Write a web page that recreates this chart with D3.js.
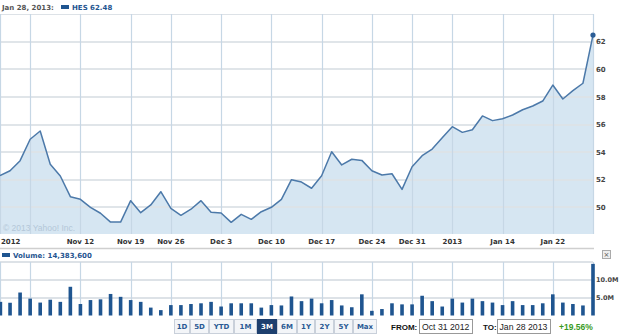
<!DOCTYPE html>
<html>
<head>
<meta charset="utf-8">
<script src="https://cdn.jsdelivr.net/npm/d3@7"></script>
<style>
  body { margin: 0; background: #fff; }
  svg { display: block; }
</style>
</head>
<body>
<svg id="chart" width="625" height="334"></svg>
<script>
// trading days shown on the 3M view
const dates = [
  '2012-10-31',
  '2012-11-01', '2012-11-02', '2012-11-05', '2012-11-06', '2012-11-07', '2012-11-08', '2012-11-09',
  '2012-11-12', '2012-11-13', '2012-11-14', '2012-11-15', '2012-11-16', '2012-11-19', '2012-11-20',
  '2012-11-21', '2012-11-23', '2012-11-26', '2012-11-27', '2012-11-28', '2012-11-29', '2012-11-30',
  '2012-12-03', '2012-12-04', '2012-12-05', '2012-12-06', '2012-12-07', '2012-12-10', '2012-12-11',
  '2012-12-12', '2012-12-13', '2012-12-14', '2012-12-17', '2012-12-18', '2012-12-19', '2012-12-20',
  '2012-12-21', '2012-12-24', '2012-12-26', '2012-12-27', '2012-12-28', '2012-12-31',
  '2013-01-02', '2013-01-03', '2013-01-04', '2013-01-07', '2013-01-08', '2013-01-09', '2013-01-10',
  '2013-01-11', '2013-01-14', '2013-01-15', '2013-01-16', '2013-01-17', '2013-01-18', '2013-01-22',
  '2013-01-23', '2013-01-24', '2013-01-25', '2013-01-28',
];

const closes = [
  52.29, 52.65, 53.38, 54.93, 55.53, 53.12, 52.27, 50.77, 50.58, 50.00,
  49.57, 48.93, 48.93, 50.48, 49.61, 50.17, 51.13, 49.93, 49.42, 49.86,
  50.48, 49.64, 49.59, 48.91, 49.49, 49.13, 49.68, 50.00, 50.58, 52.00,
  51.83, 51.38, 52.29, 54.03, 53.07, 53.48, 53.40, 52.65, 52.34, 52.43,
  51.30, 52.94, 53.74, 54.22, 55.04, 55.84, 55.43, 55.62, 56.62, 56.28,
  56.42, 56.69, 57.07, 57.34, 57.70, 58.86, 57.85, 58.45, 58.99, 62.48,
];

// volume in millions of shares
const volumes = [
  3.8, 3.55, 6.4, 4.7, 3.6, 4.4, 3.8, 8.0, 3.2, 4.3,
  4.5, 6.0, 5.2, 4.3, 3.8, 2.2, 1.5, 2.9, 2.9, 3.2,
  3.4, 3.8, 2.5, 3.4, 3.4, 3.4, 2.2, 2.9, 2.8, 5.3,
  4.0, 4.7, 3.4, 4.3, 2.8, 2.3, 5.9, 1.3, 1.8, 3.4,
  3.1, 3.1, 5.5, 4.0, 2.5, 4.7, 3.6, 4.7, 4.0, 3.6,
  2.9, 4.0, 2.9, 2.9, 3.4, 5.9, 3.6, 3.2, 2.8, 14.3836,
];

const xTickDates = ['2012-10-31', '2012-11-05', '2012-11-12', '2012-11-19', '2012-11-26', '2012-12-03',
  '2012-12-10', '2012-12-17', '2012-12-24', '2012-12-31', '2013-01-07', '2013-01-14', '2013-01-22', '2013-01-28'];
const xTickLabels = ['2012', '', 'Nov 12', 'Nov 19', 'Nov 26', 'Dec 3',
  'Dec 10', 'Dec 17', 'Dec 24', 'Dec 31', '2013', 'Jan 14', 'Jan 22', ''];
const priceTicks = [50, 52, 54, 56, 58, 60, 62];
const volumeTicks = [5, 10];
const rangeButtons = ['1D', '5D', 'YTD', '1M', '3M', '6M', '1Y', '2Y', '5Y', 'Max'];
const activeRange = '3M';

const BLUE = '#1f5590';
const LINE = '#4c79a9';
const FILL = '#d6e6f2';
const HGRID = '#dde2e7';
const VGRID = '#c6d7e5';

const svg = d3.select('#chart');
svg.append('rect').attr('width', 625).attr('height', 334).attr('fill', '#fff');

const idx = (d) => dates.indexOf(d);
const x = d3.scaleLinear().domain([0, dates.length - 1]).range([0, 593]);
const y = d3.scaleLinear().domain([50, 62]).range([207.3, 41.7]);
const yv = d3.scaleLinear().domain([0, 10]).range([315.5, 279.6]);

const mainTop = 14;
const mainBottom = 234;
const volTop = 262;

// ---- main price panel ----
const main = svg.append('g');

main.append('path')
  .datum(closes)
  .attr('fill', FILL)
  .attr('d', d3.area()
    .x((d, i) => x(i))
    .y0(mainBottom)
    .y1((d) => y(d)));

// grid
main.selectAll('.hgrid')
  .data(priceTicks)
  .join('line')
    .attr('x1', 0)
    .attr('x2', x(dates.length - 1))
    .attr('y1', (d) => Math.round(y(d)))
    .attr('y2', (d) => Math.round(y(d)))
    .attr('stroke', HGRID)
    .attr('stroke-opacity', 0.9)
    .attr('stroke-width', 2);

main.append('line')
  .attr('x1', 0).attr('x2', x(dates.length - 1))
  .attr('y1', mainTop + 0.5).attr('y2', mainTop + 0.5)
  .attr('stroke', HGRID);

main.selectAll('.vgrid')
  .data(xTickDates)
  .join('line')
    .attr('x1', (d) => Math.round(x(idx(d))) + 0.5)
    .attr('x2', (d) => Math.round(x(idx(d))) + 0.5)
    .attr('y1', mainTop)
    .attr('y2', mainBottom)
    .attr('stroke', VGRID)
    .attr('stroke-width', 1.2);

main.append('path')
  .datum(closes)
  .attr('fill', 'none')
  .attr('stroke', LINE)
  .attr('stroke-width', 1.5)
  .attr('stroke-linejoin', 'round')
  .attr('d', d3.line()
    .x((d, i) => x(i))
    .y((d) => y(d)));

main.append('circle')
  .attr('cx', x(dates.length - 1))
  .attr('cy', y(closes[closes.length - 1]))
  .attr('r', 2.6)
  .attr('fill', '#2b5d96');

main.append('text')
  .attr('x', 3)
  .attr('y', 231)
  .attr('font-family', 'Liberation Sans, Arial, sans-serif')
  .attr('font-size', 8.5)
  .attr('fill', '#b4c7d8')
  .text('\u00a9 2013 Yahoo! Inc.');

// right price axis
const yAxis = d3.axisRight(y).tickValues(priceTicks).tickSize(0).tickPadding(0).tickFormat(d3.format('d'));
main.append('g')
  .attr('transform', 'translate(596,0)')
  .call(yAxis)
  .call((g) => g.select('.domain').remove())
  .call((g) => g.selectAll('text')
    .attr('font-family', 'DejaVu Sans, Verdana, sans-serif')
    .attr('font-weight', 'bold')
    .attr('font-size', 7)
    .attr('fill', '#444'));

// header
const header = svg.append('g');
header.append('text')
  .attr('x', 2).attr('y', 10)
  .attr('font-family', 'DejaVu Sans, Verdana, sans-serif')
  .attr('font-weight', 'bold')
  .attr('font-size', 7)
  .attr('fill', '#555')
  .text('Jan 28, 2013:');
header.append('rect')
  .attr('x', 61).attr('y', 5).attr('width', 8).attr('height', 4)
  .attr('fill', BLUE);
header.append('text')
  .attr('x', 72).attr('y', 10)
  .attr('font-family', 'DejaVu Sans, Verdana, sans-serif')
  .attr('font-weight', 'bold')
  .attr('font-size', 7)
  .attr('fill', BLUE)
  .text(`HES ${closes[closes.length - 1].toFixed(2)}`);

// x labels
svg.append('g')
  .selectAll('text')
  .data(xTickDates)
  .join('text')
    .attr('x', (d, i) => (i === 0 ? 1 : x(idx(d))))
    .attr('y', 244)
    .attr('text-anchor', (d, i) => (i === 0 ? 'start' : 'middle'))
    .attr('font-family', 'DejaVu Sans, Verdana, sans-serif')
    .attr('font-weight', 'bold')
    .attr('font-size', 7)
    .attr('fill', '#333')
    .text((d, i) => xTickLabels[i]);

svg.append('line')
  .attr('x1', 0).attr('x2', 594)
  .attr('y1', 248.5).attr('y2', 248.5)
  .attr('stroke', '#cfcfcf')
  .attr('stroke-width', 1.5);

// ---- volume panel ----
const vol = svg.append('g');
vol.append('rect')
  .attr('x', 2).attr('y', 253).attr('width', 8).attr('height', 4)
  .attr('fill', BLUE);
vol.append('text')
  .attr('x', 13).attr('y', 258)
  .attr('font-family', 'DejaVu Sans, Verdana, sans-serif')
  .attr('font-weight', 'bold')
  .attr('font-size', 7)
  .attr('fill', BLUE)
  .text(`Volume: ${d3.format(',')(Math.round(volumes[volumes.length - 1] * 1e6))}`);

// close box
vol.append('rect')
  .attr('x', 602.5).attr('y', 250.5).attr('width', 8).attr('height', 8)
  .attr('fill', '#eee')
  .attr('stroke', '#aaa');
vol.append('text')
  .attr('x', 606.5).attr('y', 257)
  .attr('text-anchor', 'middle')
  .attr('font-family', 'DejaVu Sans, sans-serif')
  .attr('font-size', 7)
  .attr('fill', '#555')
  .text('\u00d7');

vol.selectAll('.vh')
  .data([volTop, yv(5), yv(10)])
  .join('line')
    .attr('x1', 0).attr('x2', 593)
    .attr('y1', (d) => Math.round(d))
    .attr('y2', (d) => Math.round(d))
    .attr('stroke', HGRID)
    .attr('stroke-width', 2);

vol.selectAll('.vv')
  .data(xTickDates)
  .join('line')
    .attr('x1', (d) => Math.round(x(idx(d))) + 0.5)
    .attr('x2', (d) => Math.round(x(idx(d))) + 0.5)
    .attr('y1', volTop)
    .attr('y2', 315)
    .attr('stroke', VGRID)
    .attr('stroke-width', 1.2);

vol.selectAll('.bar')
  .data(volumes)
  .join('rect')
    .attr('x', (d, i) => Math.max(0, x(i) - 1.8))
    .attr('width', (d, i) => (i === 0 ? 2.2 : 3.6))
    .attr('y', (d) => yv(d))
    .attr('height', (d) => yv(0) - yv(d))
    .attr('fill', BLUE);

vol.append('g')
  .attr('transform', 'translate(596,0)')
  .call(d3.axisRight(yv).tickValues(volumeTicks).tickSize(0).tickPadding(0).tickFormat((d) => `${d.toFixed(1)}M`))
  .call((g) => g.select('.domain').remove())
  .call((g) => g.selectAll('text')
    .attr('font-family', 'DejaVu Sans, Verdana, sans-serif')
    .attr('font-weight', 'bold')
    .attr('font-size', 6.5)
    .attr('fill', '#444'));

// ---- range buttons & date inputs ----
const btnWidths = [16, 19, 25, 23, 20, 20, 18, 19, 19, 24];
const btnX = d3.cumsum([174, ...btnWidths]);
const btns = svg.append('g')
  .selectAll('g')
  .data(rangeButtons)
  .join('g')
    .attr('transform', (d, i) => `translate(${btnX[i]},319)`);
btns.append('rect')
  .attr('x', 0.5).attr('y', 0.5)
  .attr('width', (d, i) => btnWidths[i] - 1)
  .attr('height', 14)
  .attr('fill', (d) => (d === activeRange ? '#1d3f6e' : '#f3f5f8'))
  .attr('stroke', (d) => (d === activeRange ? '#1d3f6e' : '#c9d0da'));
btns.append('text')
  .attr('x', (d, i) => btnWidths[i] / 2)
  .attr('y', 10)
  .attr('text-anchor', 'middle')
  .attr('font-family', 'DejaVu Sans, Verdana, sans-serif')
  .attr('font-weight', 'bold')
  .attr('font-size', 7)
  .attr('fill', (d) => (d === activeRange ? '#fff' : '#2a5a94'))
  .text((d) => d);

const form = svg.append('g').attr('font-family', 'Liberation Sans, Arial, sans-serif');
form.append('text')
  .attr('x', 391).attr('y', 330)
  .attr('font-weight', 'bold').attr('font-size', 8).attr('fill', '#111')
  .text('FROM:');
form.append('rect')
  .attr('x', 419.5).attr('y', 319.5).attr('width', 53).attr('height', 14)
  .attr('fill', '#fff').attr('stroke', '#999');
form.append('text')
  .attr('x', 422).attr('y', 330)
  .attr('font-size', 8.7).attr('fill', '#222')
  .text('Oct 31 2012');
form.append('text')
  .attr('x', 483).attr('y', 330)
  .attr('font-weight', 'bold').attr('font-size', 8).attr('fill', '#111')
  .text('TO:');
form.append('rect')
  .attr('x', 497.5).attr('y', 319.5).attr('width', 53).attr('height', 14)
  .attr('fill', '#fff').attr('stroke', '#999');
form.append('text')
  .attr('x', 499.5).attr('y', 330)
  .attr('font-size', 8.7).attr('fill', '#222')
  .text('Jan 28 2013');
form.append('text')
  .attr('x', 559).attr('y', 330)
  .attr('font-weight', 'bold').attr('font-size', 8.5).attr('fill', '#3a9a1e')
  .text('+19.56%');
</script>
</body>
</html>
